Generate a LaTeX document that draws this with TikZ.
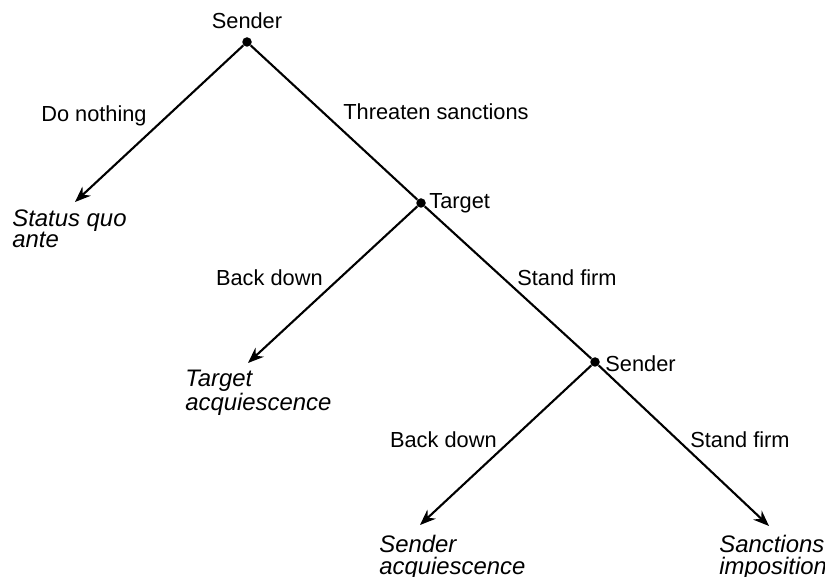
\documentclass[tikz,border=0pt]{standalone}
\usepackage{fontspec}
\setmainfont{Liberation Sans}
\usetikzlibrary{arrows.meta, positioning}
\tikzset{>={Stealth[length=9pt,width=7pt]}, font=\fontsize{12.4}{14}\selectfont}

\begin{document}
\begin{tikzpicture}[
  x=0.02cm, y=-0.02cm,
  mydot/.style={
    circle,
    fill=black,
    inner sep=0pt,
    minimum size=0.19cm
  },
  branch/.style={line width=1.2pt},
  move/.style={branch, ->},
  actor/.style={inner sep=0pt},
  choice/.style={inner sep=0pt},
  outcome/.style={
    inner sep=0pt,
    anchor=north west,
    align=left,
    font=\fontsize{13.6}{12.2}\selectfont\itshape
  }
]
\useasboundingbox (0,0) rectangle (825,577);

%the decision points
\node[mydot] (sender) at (247,42) {};
\node[mydot] (target) at (421,203) {};
\node[mydot] (senderb) at (595,362) {};

%who moves where
\node[actor, above=0.16cm of sender] (senderlbl) {Sender};
\node[actor, right=0.06cm of target] (targetlbl) {Target};
\node[actor, right=0.1cm of senderb, yshift=-0.04cm] (senderblbl) {Sender};

%the ends of the game
\coordinate (quo) at (75,202);
\coordinate (tgtacq) at (248,363);
\coordinate (sndacq) at (420,525);
\coordinate (sanct) at (769,526);

\node[outcome] (quotxt) at (12,209) {Status quo\\ante};
\node[outcome] (tgtacqtxt) at (185,370) {Target\\acquiescence};
\node[outcome] (sndacqtxt) at (379,535) {Sender\\acquiescence};
\node[outcome] (sancttxt) at (719,535) {Sanctions\\imposition};

%the branches
\draw[move] (sender) -- (quo);
\draw[branch] (sender) -- (target);
\draw[move] (target) -- (tgtacq);
\draw[branch] (target) -- (senderb);
\draw[move] (senderb) -- (sndacq);
\draw[move] (senderb) -- (sanct);

%the moves
\node[choice, anchor=base east] (nothing) at (147,122) {Do nothing};
\node[choice, anchor=base west] (threaten) at (343,120) {Threaten sanctions};
\node[choice, anchor=base east] (tback) at (323,286) {Back down};
\node[choice, anchor=base west] (tfirm) at (517,286) {Stand firm};
\node[choice, anchor=base east] (sback) at (497,447) {Back down};
\node[choice, anchor=base west] (sfirm) at (690,447) {Stand firm};

\end{tikzpicture}
\end{document}
